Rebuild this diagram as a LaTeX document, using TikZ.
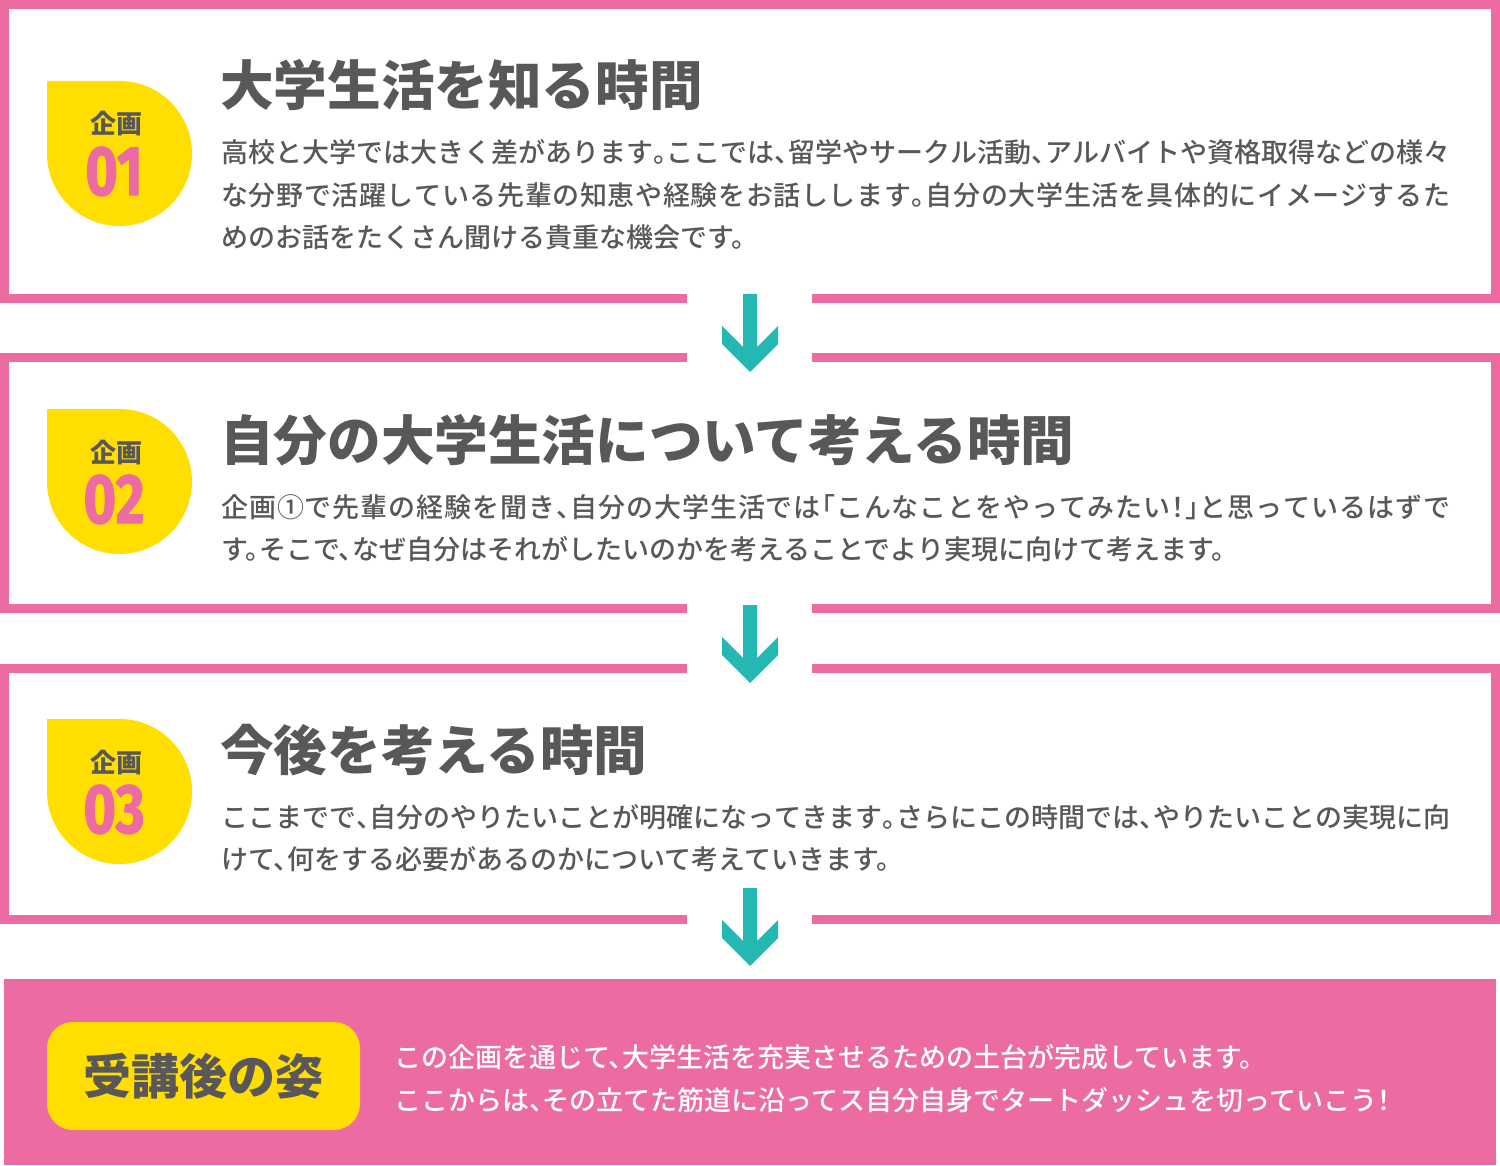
\documentclass[tikz,border=0pt]{standalone}
\usepackage{fontspec}
\usepackage{graphicx}
\newfontfamily\jp{Noto Sans CJK JP}[RawFeature=+halt]
\newfontfamily\jpm{Noto Sans CJK JP Medium}[RawFeature=+halt]
\newfontfamily\jpk{Noto Sans CJK JP Black}
\newfontfamily\numfont{Fira Sans}[BoldFeatures={FakeBold=1.5}]
\definecolor{pinkc}{HTML}{EB6BA2}
\definecolor{yellowc}{HTML}{FFDE00}
\definecolor{tealc}{HTML}{25B8B3}
\definecolor{grayc}{HTML}{595757}
% spread the characters of one line evenly across a box of fixed width
\def\sploopA#1{#1\sploopB}
\def\sploopB#1{\ifx#1\relax\else\hfil#1\expandafter\sploopB\fi}
\newcommand{\spreadline}[1]{\hbox to 1229pt{\sploopA#1\relax}}
\tikzset{
  frame/.style={draw=pinkc, line width=9pt, line join=miter, line cap=butt},
  badgefill/.style={fill=yellowc},
  lbl/.style={anchor=base, inner sep=0pt, text=grayc, font=\jp\bfseries\fontsize{26}{26}\selectfont},
  num/.style={anchor=base, inner sep=0pt, text=pinkc, font=\numfont\bfseries\fontsize{70}{70}\selectfont},
  title/.style={anchor=base west, inner sep=0pt, text=grayc, font=\jpk\fontsize{53.6}{60}\selectfont},
  jline/.style={anchor=base west, inner sep=0pt, text=grayc, font=\jpm\fontsize{27}{42.5}\selectfont},
  wline/.style={anchor=base west, inner sep=0pt, text=white, font=\jpm\fontsize{27}{42.5}\selectfont},
  downarr/.pic={\fill[tealc] (743,0) -- (757,0) -- (757,53) -- (778,32) -- (778,50) -- (750,78) -- (722,50) -- (722,32) -- (743,53) -- cycle;},
  badge/.pic={\fill[badgefill] (47,81) -- (119.5,81) arc[start angle=-90,end angle=180,radius=72.5] -- cycle;}
}
\begin{document}
\begin{tikzpicture}[x=1pt,y=-1pt]
\useasboundingbox (0,0) rectangle (1500,1166);
\fill[white] (0,0) rectangle (1500,1166);

% frames
\draw[frame] (687,298.5) -- (4.5,298.5) -- (4.5,4.5) -- (1495.5,4.5) -- (1495.5,298.5) -- (812,298.5);
\draw[frame] (687,357.5) -- (4.5,357.5) -- (4.5,608.5) -- (687,608.5);
\draw[frame] (812,357.5) -- (1495.5,357.5) -- (1495.5,608.5) -- (812,608.5);
\draw[frame] (687,668.5) -- (4.5,668.5) -- (4.5,919) -- (687,919);
\draw[frame] (812,668.5) -- (1495.5,668.5) -- (1495.5,919) -- (812,919);

% arrows
\pic at (0,294) {downarr};
\pic at (0,605) {downarr};
\pic at (0,888) {downarr};

% box 1
\pic at (0,0) {badge};
\node[lbl] (k1) at (116,134) {企画};
\node[num] (n1) at (114,195) {\scalebox{0.8}[1]{01}};
\node[title] (t1) at (220,106) {大学生活を知る時間};
\node[jline] (b1a) at (221,163) {\spreadline{高校と大学では大きく差があります。ここでは、留学やサークル活動、アルバイトや資格取得などの様々}};
\node[jline] (b1b) at (221,206) {\spreadline{な分野で活躍している先輩の知恵や経験をお話しします。自分の大学生活を具体的にイメージするた}};
\node[jline] (b1c) at (221,248) {めのお話をたくさん聞ける貴重な機会です。};

% box 2
\pic at (0,328) {badge};
\node[lbl] (k2) at (116,462) {企画};
\node[num] (n2) at (114,523) {\scalebox{0.8}[1]{02}};
\node[title] (t2) at (220,460) {自分の大学生活について考える時間};
\node[jline] (b2a) at (221,517) {\spreadline{企画①で先輩の経験を聞き、自分の大学生活では「こんなことをやってみたい！」と思っているはずで}};
\node[jline] (b2b) at (221,559) {す。そこで、なぜ自分はそれがしたいのかを考えることでより実現に向けて考えます。};

% box 3
\pic at (0,638) {badge};
\node[lbl] (k3) at (116,772) {企画};
\node[num] (n3) at (114,833) {\scalebox{0.8}[1]{03}};
\node[title] (t3) at (220,770) {今後を考える時間};
\node[jline] (b3a) at (221,827) {\spreadline{ここまでで、自分のやりたいことが明確になってきます。さらにこの時間では、やりたいことの実現に向}};
\node[jline] (b3b) at (221,869) {けて、何をする必要があるのかについて考えていきます。};

% bottom
\fill[pinkc] (4,979) rectangle (1496,1165);
\node[fill=yellowc, rounded corners=26pt, minimum width=313pt, minimum height=108pt, inner sep=0pt, text=grayc, font=\jpk\fontsize{48}{48}\selectfont] (sugata) at (203.5,1076) {受講後の姿};
\node[wline] (w1) at (394,1067) {この企画を通じて、大学生活を充実させるための土台が完成しています。};
\node[wline] (w2) at (394,1110) {ここからは、その立てた筋道に沿ってス自分自身でタートダッシュを切っていこう！};
\end{tikzpicture}
\end{document}
